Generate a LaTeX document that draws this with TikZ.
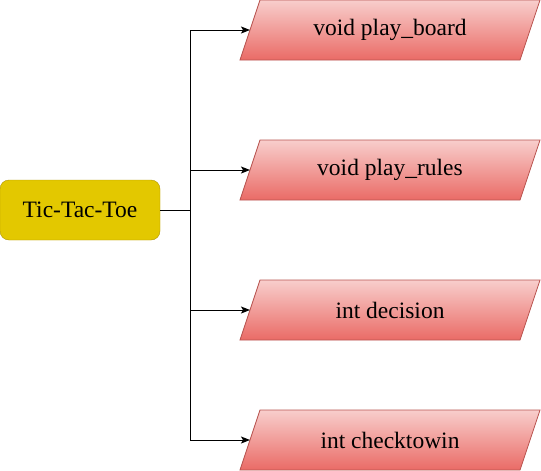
\documentclass[tikz,border=0pt]{standalone}
\usepackage{fontspec}
\setmainfont{Liberation Serif}
\usetikzlibrary{arrows.meta,backgrounds}
\definecolor{gamefill}{HTML}{E3C800}
\definecolor{gameline}{HTML}{B09500}
\definecolor{functop}{HTML}{F8CECC}
\definecolor{funcbot}{HTML}{EA6B66}
\definecolor{funcline}{HTML}{B85450}
\tikzset{
  gamebox/.style={draw=gameline, fill=gamefill, rounded corners=9pt,
    minimum width=160pt, minimum height=60pt, inner sep=0pt,
    font=\rmfamily\fontsize{23.5}{28}\selectfont},
  funcbox/.style={minimum width=280pt, minimum height=60pt,
    inner sep=0pt, outer sep=0pt, font=\rmfamily\fontsize{23.5}{28}\selectfont},
  funcshape/.style={draw=funcline, line width=0.8pt, top color=functop, bottom color=funcbot},
  link/.style={line width=1pt, -{Stealth[length=9pt,width=7pt,inset=2pt]}}
}
\begin{document}
\begin{tikzpicture}[x=1pt, y=-1pt]
        \useasboundingbox (0,0) rectangle (541,471);

        \node[gamebox] (game) at (80,210) {Tic-Tac-Toe};

        \node[funcbox] (board) at (390,30) {void play\_board};
        \node[funcbox] (rules) at (390,170) {void play\_rules};
        \node[funcbox] (decision) at (390,310) {int decision};
        \node[funcbox] (checkwin) at (390,440) {int checktowin};

        % slanted boxes behind the function names
        \begin{scope}[on background layer]
          \foreach \f in {board,rules,decision,checkwin}
            \path[funcshape] ([xshift=-10pt]\f.south west) -- ([xshift=10pt]\f.north west)
              -- ([xshift=10pt]\f.north east) -- ([xshift=-10pt]\f.south east) -- cycle;
        \end{scope}

        \coordinate (split) at (190,210);

        \draw[line width=1pt] (game.east) -- (split);
        \draw[link] (split) |- (board.west);
        \draw[link] (split) |- (rules.west);
        \draw[link] (split) |- (decision.west);
        \draw[link] (split) |- (checkwin.west);
      \end{tikzpicture}
\end{document}
